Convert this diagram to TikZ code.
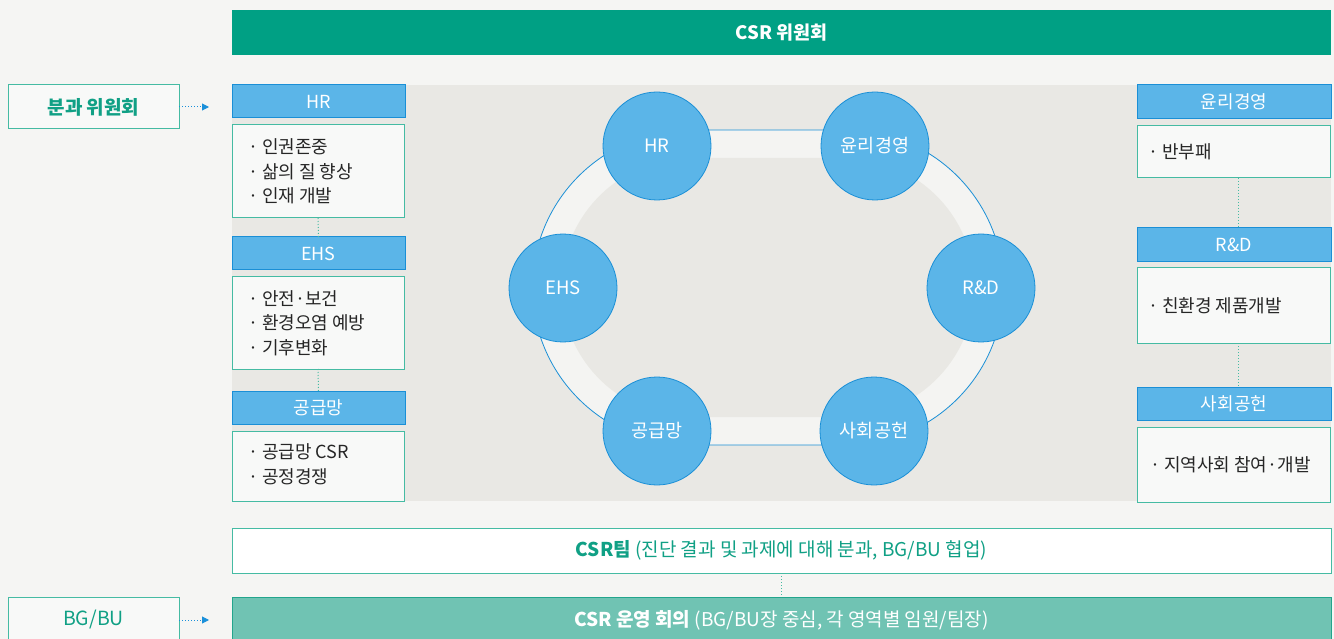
\documentclass[tikz,border=0pt]{standalone}
\usepackage{fontspec}
\setmainfont{Noto Sans CJK KR}
\usetikzlibrary{arrows.meta}
\definecolor{bgc}{HTML}{F5F5F3}
\definecolor{csrgreen}{HTML}{00A084}
\definecolor{panelc}{HTML}{E9E8E4}
\definecolor{ringc}{HTML}{F4F4F2}
\definecolor{cblue}{HTML}{5BB5E8}
\definecolor{cbord}{HTML}{1A8FD6}
\definecolor{boxfill}{HTML}{F8F9F8}
\definecolor{boxline}{HTML}{45BBA3}
\definecolor{txtc}{HTML}{262626}
\definecolor{tealtxt}{HTML}{10A085}
\definecolor{botfill}{HTML}{70C3B3}
\definecolor{botline}{HTML}{22A58C}
\definecolor{arrblue}{HTML}{1A90DA}
\begin{document}
\begin{tikzpicture}[x=1pt,y=-1pt,
  every node/.style={inner sep=0pt, outer sep=0pt},
  hdr/.style={draw=cbord, fill=cblue, line width=1pt, text=white,
    font=\fontsize{18}{20}\selectfont},
  bodybox/.style={draw=boxline, fill=boxfill, line width=1pt},
  btext/.style={anchor=west, align=left, text=txtc, font=\fontsize{18}{24.5}\selectfont},
  circ/.style={circle, draw=cbord, fill=cblue, line width=0.8pt, minimum size=108pt,
    text=white, font=\fontsize{18.5}{20}\selectfont},
  sidebox/.style={draw=boxline, fill=boxfill, line width=1pt, minimum width=171pt, text=tealtxt,
    font=\fontsize{19.5}{20}\selectfont},
  vdot/.style={draw=boxline, line width=1pt, dash pattern=on 1pt off 2pt},
  arr/.style={draw=arrblue, line width=1pt, dash pattern=on 1pt off 2pt,
    -{Triangle[length=7pt,width=7pt]}}
]
\useasboundingbox (0,0) rectangle (1334,639);
\fill[bgc] (0,0) rectangle (1334,639);
% panel
\fill[panelc] (232,85) rectangle (1331,501);
% ring
\draw[fill=ringc, draw=cbord, line width=0.8pt, rounded corners=157.5pt] (532.5,130) rectangle (1003.5,445);
\fill[panelc, rounded corners=129.5pt] (561.5,158) rectangle (974.5,417);
% top bar
\node[fill=csrgreen, minimum width=1099pt, minimum height=45pt, text=white,
  font=\fontsize{18.5}{20}\selectfont\bfseries] (csr) at (781.5,32.5) {CSR 위원회};
% side boxes
\node[sidebox, minimum height=44pt, font=\fontsize{19}{20}\selectfont\bfseries] (bunkwa) at (93.5,107) {분과 위원회};
\node[sidebox, minimum height=46pt] (bgbu) at (93.5,620) {BG/BU};
\coordinate (a1) at (209,107);
\coordinate (a2) at (209,620);
\draw[arr] (bunkwa.east) -- (a1);
\draw[arr] (bgbu.east) -- (a2);
% left column
\node[hdr, minimum width=173pt, minimum height=33pt] (hrh) at (318.5,101.5) {HR};
\node[bodybox, minimum width=172pt, minimum height=93pt] (hrb) at (318,171.5) {};
\node[btext] (hrt) at (248,171.5) {· 인권존중\\· 삶의 질 향상\\· 인재 개발};
\node[hdr, minimum width=173pt, minimum height=33pt] (ehsh) at (318.5,253.5) {EHS};
\node[bodybox, minimum width=172pt, minimum height=92pt] (ehsb) at (318,323) {};
\node[btext] (ehst) at (248,323) {· 안전·보건\\· 환경오염 예방\\· 기후변화};
\node[hdr, minimum width=173pt, minimum height=33pt] (suph) at (318.5,407.5) {공급망};
\node[bodybox, minimum width=172pt, minimum height=70pt] (supb) at (318,466) {};
\node[btext] (supt) at (248,464) {· 공급망 CSR\\· 공정경쟁};
\draw[vdot] (hrb.south) -- (ehsh.north);
\draw[vdot] (ehsb.south) -- (suph.north);
% right column
\node[hdr, minimum width=194pt, minimum height=34pt] (eth) at (1234,102) {윤리경영};
\node[bodybox, minimum width=193pt, minimum height=52pt] (etb) at (1234,152) {};
\node[btext] (ett) at (1148,152) {· 반부패};
\node[hdr, minimum width=194pt, minimum height=34pt] (rdh) at (1234,245) {R\&D};
\node[bodybox, minimum width=193pt, minimum height=75pt] (rdb) at (1234,305.5) {};
\node[btext] (rdt) at (1148,305.5) {· 친환경 제품개발};
\node[hdr, minimum width=194pt, minimum height=33pt] (soh) at (1234,403.5) {사회공헌};
\node[bodybox, minimum width=193pt, minimum height=75pt] (sob) at (1234,464.5) {};
\node[btext] (sot) at (1150,464.5) {· 지역사회 참여·개발};
\draw[vdot] ([xshift=4pt]etb.south) -- ([xshift=4pt]rdh.north);
\draw[vdot] ([xshift=4pt]rdb.south) -- ([xshift=4pt]soh.north);
% circles
\node[circ] (c1) at (657,146) {HR};
\node[circ] (c2) at (875,146) {윤리경영};
\node[circ] (c3) at (563,288) {EHS};
\node[circ] (c4) at (981,288) {R\&D};
\node[circ] (c5) at (657,431) {공급망};
\node[circ] (c6) at (874,431) {사회공헌};
% bottom
\node[draw=boxline, fill=white, line width=1pt, minimum width=1099pt, minimum height=45pt,
  text=tealtxt, font=\fontsize{19}{20}\selectfont] (team) at (781.5,550.5)
  {{\bfseries CSR팀} (진단 결과 및 과제에 대해 분과, BG/BU 협업)};
\node[draw=botline, fill=botfill, line width=1pt, minimum width=1099pt, minimum height=46pt,
  text=white, font=\fontsize{19}{20}\selectfont] (meet) at (781.5,620)
  {{\bfseries CSR 운영 회의} (BG/BU장 중심, 각 영역별 임원/팀장)};
\draw[vdot] (team.south) -- (meet.north);
\end{tikzpicture}
\end{document}
